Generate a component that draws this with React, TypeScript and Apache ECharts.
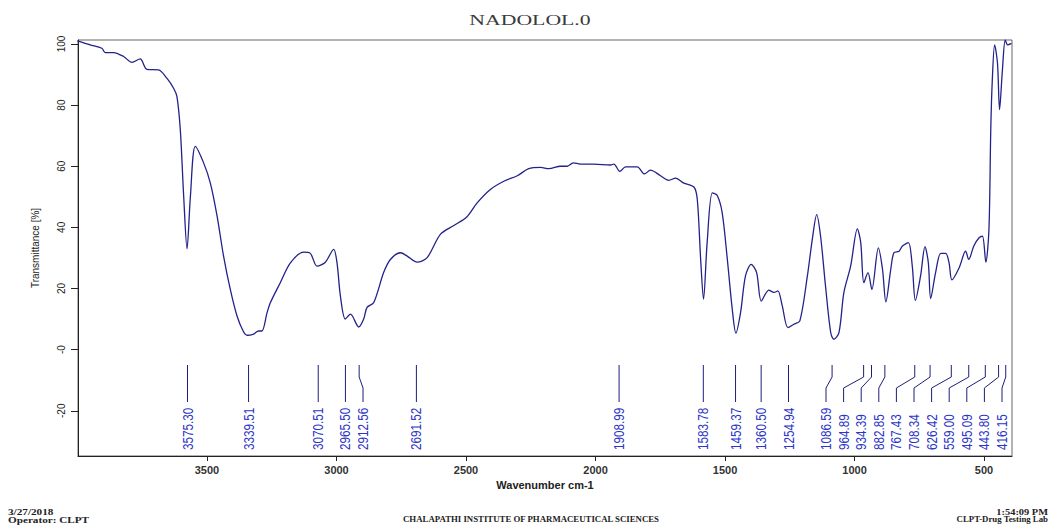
import React, { useEffect, useRef } from "react";
import * as echarts from "echarts";

// ---- Data ----
const WAVENUMBER = [
  4000, 3951, 3906, 3893, 3861, 3822, 3790, 3758, 3732, 3687,
  3655, 3629, 3616, 3603, 3590, 3577, 3564, 3545, 3513, 3487,
  3461, 3436, 3410, 3384, 3360, 3345, 3320, 3301, 3288, 3268,
  3255, 3217, 3178, 3127, 3101, 3075, 3043, 3011, 2998, 2985,
  2966, 2946, 2914, 2895, 2882, 2856, 2818, 2792, 2753, 2727,
  2689, 2650, 2599, 2547, 2496, 2457, 2406, 2354, 2302, 2258,
  2212, 2180, 2135, 2109, 2086, 2058, 2007, 1942, 1929, 1906,
  1884, 1839, 1811, 1788, 1749, 1717, 1691, 1659, 1620, 1607,
  1594, 1583, 1569, 1549, 1530, 1511, 1491, 1472, 1458, 1440,
  1421, 1399, 1378, 1360, 1331, 1311, 1296, 1279, 1257, 1234,
  1211, 1182, 1163, 1146, 1131, 1112, 1092, 1080, 1060, 1041,
  1015, 989, 976, 964, 948, 933, 908, 892, 879, 860,
  848, 828, 815, 792, 777, 765, 745, 728, 715, 706,
  687, 667, 648, 635, 624, 596, 571, 559, 539, 519,
  506, 493, 481, 474, 468, 459, 448, 440, 429, 418,
  409, 394,
];

const TRANSMITTANCE = [
  101.0, 99.7, 98.6, 97.2, 97.2, 95.9, 94.0, 95.1, 91.7, 91.5,
  88.8, 85.5, 82.8, 71.9, 50.2, 33.0, 50.2, 66.5, 61.1, 54.5,
  43.7, 30.6, 19.7, 11.0, 6.0, 4.7, 5.1, 6.1, 6.1, 12.1,
  15.4, 21.9, 28.4, 31.9, 31.5, 27.3, 28.6, 32.8, 28.4, 17.6,
  10.0, 11.6, 7.4, 10.0, 13.8, 15.4, 25.2, 29.5, 31.7, 30.6,
  28.6, 30.1, 37.7, 40.6, 43.5, 48.0, 52.4, 55.1, 56.9, 59.2,
  59.6, 59.2, 60.0, 60.0, 61.1, 60.7, 60.7, 60.4, 60.7, 58.3,
  59.8, 59.8, 57.5, 58.7, 56.9, 55.4, 56.1, 54.5, 53.2, 49.1,
  29.5, 16.5, 35.0, 51.3, 50.4, 44.8, 29.5, 13.2, 5.4, 12.1,
  24.1, 27.9, 25.2, 15.9, 19.5, 18.7, 19.2, 14.3, 7.2, 8.3,
  9.4, 24.1, 36.1, 44.2, 37.1, 20.8, 5.6, 3.4, 5.6, 18.7,
  27.3, 39.5, 35.0, 21.9, 25.2, 19.7, 33.3, 26.3, 15.6, 26.3,
  31.7, 32.2, 33.9, 35.0, 27.3, 16.1, 24.1, 33.7, 28.4, 16.7,
  25.2, 31.5, 31.5, 28.4, 22.8, 26.8, 32.2, 29.5, 34.0, 36.6,
  37.1, 28.6, 39.3, 71.9, 88.3, 99.7, 93.7, 78.5, 91.5, 101.3,
  99.7, 100.2,
];

const PEAKS = [
  3575.3, 3339.51, 3070.51, 2965.5, 2912.56, 2691.52, 1908.99, 1583.78,
  1459.37, 1360.5, 1254.94, 1086.59, 964.89, 934.39, 882.85, 767.43,
  708.34, 626.42, 559.0, 495.09, 443.8, 416.15,
];

const X_TICKS = [3500, 3000, 2500, 2000, 1500, 1000, 500];
const Y_TICKS = [-20, 0, 20, 40, 60, 80, 100];

const TITLE = "NADOLOL.0";
const X_NAME = "Wavenumber cm-1";
const Y_NAME = "Transmittance [%]";
const FOOT_DATE = "3/27/2018";
const FOOT_OPERATOR = "Operator: CLPT";
const FOOT_CENTER = "CHALAPATHI INSTITUTE OF PHARMACEUTICAL SCIENCES";
const FOOT_TIME = "1:54:09 PM";
const FOOT_LAB = "CLPT-Drug Testing Lab";

const X_MIN = 392;
const X_MAX = 3998;
const Y_MIN = -34.8;
const Y_MAX = 101.3;

const LINE_COLOR = "#22228a";
const PEAK_TEXT_COLOR = "#2b35c6";

function renderPeak(params: any, api: any) {
  const cs = params.coordSys;
  const bottom = cs.y + cs.height;
  const right = cs.x + cs.width;
  const px = PEAKS.map((p) => api.coord([p, 0])[0]);
  const gap = 17.6;
  const lx = px.slice();
  for (let k = 1; k < lx.length; k++) lx[k] = Math.max(lx[k], lx[k - 1] + gap);
  lx[lx.length - 1] = Math.min(lx[lx.length - 1], right - 10);
  for (let k = lx.length - 2; k >= 0; k--) lx[k] = Math.min(lx[k], lx[k + 1] - gap);
  const i = params.dataIndex;
  const x0 = px[i];
  const xl = lx[i];
  const yTop = bottom - 91;
  const yB1 = bottom - 79;
  const yB2 = bottom - 68;
  const yEnd = bottom - 54;
  const pts =
    Math.abs(x0 - xl) < 0.5
      ? [
          [x0, yTop],
          [x0, yEnd],
        ]
      : [
          [x0, yTop],
          [x0, yB1],
          [xl, yB2],
          [xl, yEnd],
        ];
  return {
    type: "group",
    children: [
      {
        type: "polyline",
        shape: { points: pts },
        style: { stroke: "#1e1e7a", lineWidth: 1, fill: null },
      },
      {
        type: "text",
        x: xl,
        y: bottom - 6,
        rotation: Math.PI / 2,
        scaleX: 0.78,
        style: {
          text: PEAKS[i].toFixed(2),
          x: 0,
          y: 0,
          font: '15px "Liberation Sans", Arial, sans-serif',
          fill: PEAK_TEXT_COLOR,
          align: "left",
          verticalAlign: "middle",
        },
      },
    ],
  };
}

export default function App() {
  const ref = useRef<HTMLDivElement>(null);

  useEffect(() => {
    if (!ref.current) return;
    const chart = echarts.init(ref.current, null, { renderer: "svg" });
    const lineData = WAVENUMBER.map((w, i) => [w, TRANSMITTANCE[i]]);
    const serif = '"Liberation Serif", "DejaVu Serif", serif';
    const footFont = `bold 8px ${serif}`;

    chart.setOption({
      animation: false,
      backgroundColor: "#ffffff",
      grid: {
        left: 78,
        top: 40,
        right: 39,
        bottom: 70,
        show: true,
        borderColor: "#666666",
        borderWidth: 1,
      },
      xAxis: {
        type: "value",
        inverse: true,
        min: X_MIN,
        max: X_MAX,
        name: X_NAME,
        nameLocation: "middle",
        nameGap: 21,
        nameTextStyle: {
          fontFamily: '"Liberation Sans", Arial, sans-serif',
          fontWeight: "bold",
          fontSize: 11,
          color: "#222",
        },
        axisLine: { show: true, onZero: false, lineStyle: { color: "#222", width: 1 } },
        axisTick: {
          show: true,
          length: 5,
          customValues: X_TICKS,
          lineStyle: { color: "#222" },
        },
        axisLabel: {
          customValues: X_TICKS,
          fontFamily: '"Liberation Sans", Arial, sans-serif',
          fontWeight: "bold",
          fontSize: 11,
          color: "#333",
          margin: 8,
          formatter: (v: number) => String(v),
        },
        splitLine: { show: false },
      },
      yAxis: {
        type: "value",
        min: Y_MIN,
        max: Y_MAX,
        name: Y_NAME,
        nameLocation: "middle",
        nameGap: 38,
        nameRotate: 90,
        nameTextStyle: {
          fontFamily: '"Liberation Sans", Arial, sans-serif',
          fontSize: 10,
          color: "#222",
        },
        axisLine: { show: true, onZero: false, lineStyle: { color: "#222", width: 1 } },
        axisTick: {
          show: true,
          length: 7,
          customValues: Y_TICKS,
          lineStyle: { color: "#222" },
        },
        axisLabel: {
          customValues: Y_TICKS,
          rotate: 90,
          fontFamily: '"Liberation Sans", Arial, sans-serif',
          fontSize: 10,
          color: "#222",
          margin: 12,
          formatter: (v: number) => (v === 0 ? "-0" : String(v)),
        },
        splitLine: { show: false },
      },
      series: [
        {
          type: "line",
          data: lineData,
          showSymbol: false,
          smooth: 0.3,
          clip: true,
          lineStyle: { color: LINE_COLOR, width: 1.3 },
          silent: true,
        },
        {
          type: "custom",
          data: PEAKS.map((p) => [p, 0]),
          encode: { x: 0, y: 1 },
          clip: false,
          silent: true,
          renderItem: renderPeak,
        },
      ],
      graphic: [
        {
          type: "text",
          x: 530,
          y: 20,
          scaleX: 1.45,
          style: {
            text: TITLE,
            font: `15px ${serif}`,
            fill: "#3a3a3a",
            align: "center",
            verticalAlign: "middle",
          },
        },
        {
          type: "text",
          x: 8,
          y: 512,
          scaleX: 1.4,
          style: { text: FOOT_DATE, font: footFont, fill: "#222", align: "left", verticalAlign: "middle" },
        },
        {
          type: "text",
          x: 8,
          y: 520,
          scaleX: 1.4,
          style: { text: FOOT_OPERATOR, font: footFont, fill: "#222", align: "left", verticalAlign: "middle" },
        },
        {
          type: "text",
          x: 531,
          y: 520,
          scaleX: 1.1,
          style: { text: FOOT_CENTER, font: footFont, fill: "#222", align: "center", verticalAlign: "middle" },
        },
        {
          type: "text",
          x: 1048,
          y: 512,
          scaleX: 1.3,
          style: { text: FOOT_TIME, font: footFont, fill: "#222", align: "right", verticalAlign: "middle" },
        },
        {
          type: "text",
          x: 1048,
          y: 520,
          scaleX: 1.1,
          style: { text: FOOT_LAB, font: footFont, fill: "#222", align: "right", verticalAlign: "middle" },
        },
      ],
    });

    return () => {
      chart.dispose();
    };
  }, []);

  return (
    <div
      ref={ref}
      style={{
        position: "absolute",
        left: 0,
        top: 0,
        width: 1051,
        height: 526,
        background: "#fff",
      }}
    />
  );
}
